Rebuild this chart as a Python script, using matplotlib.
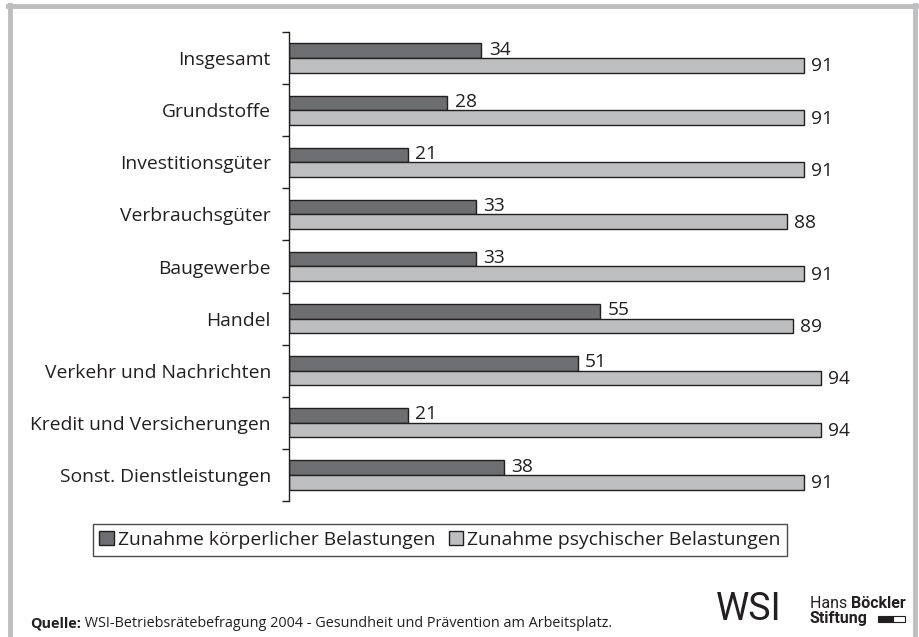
import matplotlib.pyplot as plt
from matplotlib.patches import Rectangle
from matplotlib.lines import Line2D

plt.rcParams['font.family'] = ['Open Sans', 'DejaVu Sans']

# Daten
branchen = ['Insgesamt', 'Grundstoffe', 'Investitionsgüter', 'Verbrauchsgüter',
            'Baugewerbe', 'Handel', 'Verkehr und Nachrichten',
            'Kredit und Versicherungen', 'Sonst. Dienstleistungen']
koerperlich = [34, 28, 21, 33, 33, 55, 51, 21, 38]
psychisch = [91, 91, 91, 88, 91, 89, 94, 94, 91]
serien_namen = ['Zunahme körperlicher Belastungen', 'Zunahme psychischer Belastungen']
quelle = ' WSI-Betriebsrätebefragung 2004 - Gesundheit und Prävention am Arbeitsplatz.'

dunkel = '#6d6e71'
hell = '#bcbec0'
rand = '#231f20'

W, H = 920, 637
fig = plt.figure(figsize=(W / 100, H / 100), dpi=100)

# Achse: x 289..855 px, y 32..501 px
ax = fig.add_axes([289 / W, 1 - 501 / H, 566 / W, 469 / H])
n = len(branchen)
pos = list(range(n))
bh = 0.28

ax.barh([p - bh / 2 for p in pos], koerperlich, height=bh, color=dunkel,
        edgecolor=rand, linewidth=1.0)
ax.barh([p + bh / 2 for p in pos], psychisch, height=bh, color=hell,
        edgecolor=rand, linewidth=1.0)

for p, v in zip(pos, koerperlich):
    ax.text(v + 1.3, p - bh / 2 - 0.02, str(v), va='center', ha='left',
            fontsize=13.8, color=rand)
for p, v in zip(pos, psychisch):
    ax.text(v + 1.3, p + bh / 2 + 0.02, str(v), va='center', ha='left',
            fontsize=13.8, color=rand)

ax.set_xlim(0, 100)
ax.set_ylim(n - 0.5, -0.5)
for s in ['top', 'right', 'bottom']:
    ax.spines[s].set_visible(False)
ax.spines['left'].set_color(rand)
ax.spines['left'].set_linewidth(1.0)
ax.set_xticks([])
ax.set_yticks([p - 0.5 for p in range(n + 1)])
ax.set_yticklabels([])
ax.tick_params(axis='y', which='major', length=5, width=1.0, color=rand)
ax.set_yticks(pos, minor=True)
ax.set_yticklabels(branchen, minor=True, fontsize=13.9, color=rand)
ax.tick_params(axis='y', which='minor', length=0, pad=13)

# Legende
handles = [Rectangle((0, 0), 1, 1, facecolor=dunkel, edgecolor=rand, linewidth=1.0),
           Rectangle((0, 0), 1, 1, facecolor=hell, edgecolor=rand, linewidth=1.0)]
leg = fig.legend(handles, serien_namen, loc='center', bbox_to_anchor=(440 / W, 1 - 540 / H),
                 ncol=2, fontsize=13.9, frameon=True, fancybox=False,
                 handlelength=0.75, handleheight=0.75, handletextpad=0.2,
                 columnspacing=0.7, borderpad=0.35, labelcolor=rand)
leg.get_frame().set_edgecolor(rand)
leg.get_frame().set_linewidth(1.0)

# grauer Rahmen
rahmen = '#bcbec0'
fig.add_artist(Line2D([10 / W, 10 / W], [0, 1 - 5 / H], color=rahmen, lw=3.5))
fig.add_artist(Line2D([915 / W, 915 / W], [0, 1 - 5 / H], color=rahmen, lw=3.5))
fig.add_artist(Line2D([8 / W, 917 / W], [1 - 5.5 / H, 1 - 5.5 / H], color=rahmen, lw=3.5))

# Quelle
q = fig.text(30 / W, 1 - 631 / H, 'Quelle:', fontsize=10.4, fontweight='bold',
             va='bottom', ha='left', color=rand)
fig.add_artist(plt.Annotation(quelle, xy=(1, 0), xycoords=q, va='bottom', ha='left',
                              fontsize=10.4, color=rand, annotation_clip=False))

# Logos
logo_font = ['Roboto', 'DejaVu Sans']
fig.text(716 / W, 1 - 610 / H, 'WSI', fontsize=27, family=logo_font,
         va='center', ha='left', color=rand)
h = fig.text(810 / W, 1 - 611 / H, 'Hans ', fontsize=11.5, family=logo_font,
             va='bottom', ha='left', color=rand)
fig.add_artist(plt.Annotation('Böckler', xy=(1, 0), xycoords=h, va='bottom', ha='left',
                              fontsize=11.5, family=logo_font, fontweight='bold',
                              color=rand, annotation_clip=False))
fig.text(810 / W, 1 - 618 / H, 'Stiftung', fontsize=11.5, family=logo_font,
         fontweight='bold', va='center', ha='left', color=rand)
fig.add_artist(Rectangle((878 / W, 1 - 622 / H), 15 / W, 6 / H, facecolor=rand,
                         edgecolor=rand, lw=0.8, transform=fig.transFigure))
fig.add_artist(Rectangle((893 / W, 1 - 622 / H), 12 / W, 6 / H, facecolor='white',
                         edgecolor=rand, lw=0.8, transform=fig.transFigure))

fig.savefig('out.png', dpi=100, facecolor='white')
